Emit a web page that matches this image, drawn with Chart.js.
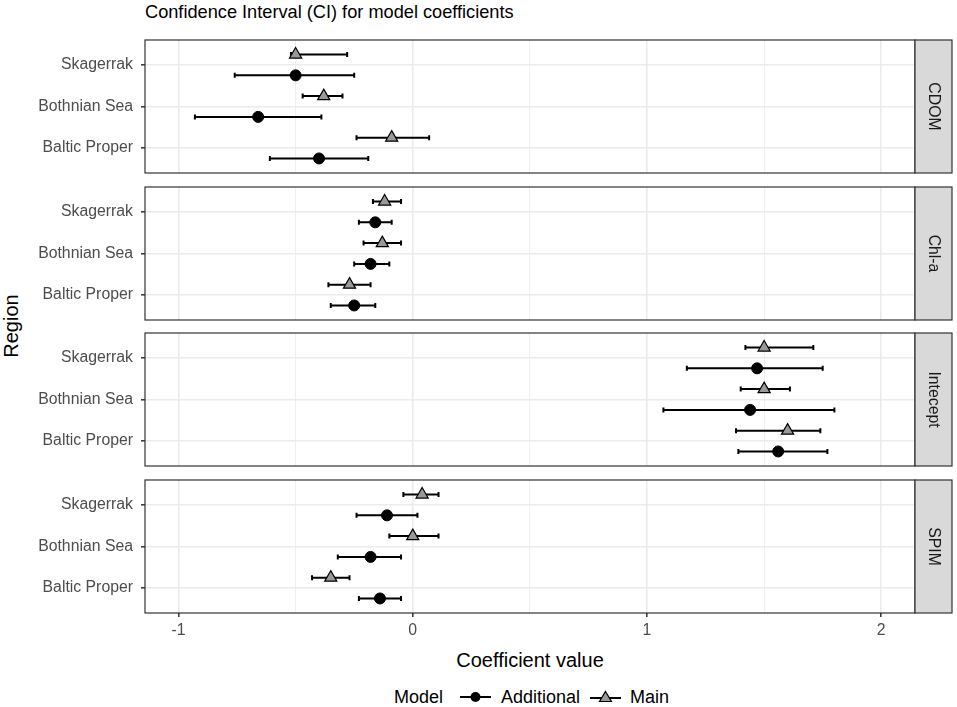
<!DOCTYPE html>
<html>
<head>
<meta charset="utf-8">
<script src="https://cdn.jsdelivr.net/npm/chart.js@4.4.1/dist/chart.umd.min.js"></script>
<style>
  body { margin: 0; background: #fff; font-family: "Liberation Sans", Arial, sans-serif; }
  #wrap { position: relative; width: 957px; height: 707px; overflow: hidden; }
  .panel { position: absolute; left: 0; width: 957px; }
  #title { position: absolute; left: 145px; top: 3px; font-size: 18.2px; line-height: 1; color: #000; white-space: nowrap; }
  #xtitle { position: absolute; left: 145px; width: 770px; top: 650px; font-size: 20px; line-height: 1; text-align: center; color: #000; }
  #ytitle { position: absolute; left: 11px; top: 326px; font-size: 20px; line-height: 1; color: #000;
            transform: translate(-50%, -50%) rotate(-90deg); white-space: nowrap; }
  #legend { position: absolute; left: 394px; top: 688px; font-size: 18px; line-height: 1; color: #000;
            display: flex; align-items: center; white-space: nowrap; }
  #legend svg { display: block; }
</style>
</head>
<body>
<div id="wrap">
  <div id="title">Confidence Interval (CI) for model coefficients</div>
  <div id="ytitle">Region</div>
  <div id="xtitle">Coefficient value</div>
  <div id="legend">
    <span>Model</span>
    <svg width="31" height="14" style="margin-left:17px"><line x1="0" y1="7" x2="31" y2="7" stroke="#000" stroke-width="2"/><circle cx="15.5" cy="7" r="5" fill="#000"/></svg>
    <span style="margin-left:10px">Additional</span>
    <svg width="31" height="14" style="margin-left:10px"><line x1="0" y1="8" x2="31" y2="8" stroke="#000" stroke-width="2"/><polygon points="15.5,1.5 21.5,11.5 9.5,11.5" fill="#999999" stroke="#000" stroke-width="1.2"/></svg>
    <span style="margin-left:9px">Main</span>
  </div>
</div>
<script>
// categories and facets
const regions = ['Skagerrak', 'Bothnian Sea', 'Baltic Proper'];
const facets = ['CDOM', 'Chl-a', 'Intecept', 'SPIM'];
const xTicks = [-1, 0, 1, 2];
const xGrid = [-1, -0.5, 0, 0.5, 1, 1.5, 2];

// one row per facet, one value per region (Skagerrak, Bothnian Sea, Baltic Proper)
const mainEst = [[-0.50, -0.38, -0.09], [-0.12, -0.13, -0.27], [1.50, 1.50, 1.60], [0.04, 0.00, -0.35]];
const mainLo  = [[-0.52, -0.47, -0.24], [-0.17, -0.21, -0.36], [1.42, 1.40, 1.38], [-0.04, -0.10, -0.43]];
const mainHi  = [[-0.28, -0.30, 0.07], [-0.05, -0.05, -0.18], [1.71, 1.61, 1.74], [0.11, 0.11, -0.27]];
const addEst  = [[-0.50, -0.66, -0.40], [-0.16, -0.18, -0.25], [1.47, 1.44, 1.56], [-0.11, -0.18, -0.14]];
const addLo   = [[-0.76, -0.93, -0.61], [-0.23, -0.25, -0.35], [1.17, 1.07, 1.39], [-0.24, -0.32, -0.23]];
const addHi   = [[-0.25, -0.39, -0.19], [-0.09, -0.10, -0.16], [1.75, 1.80, 1.77], [0.02, -0.05, -0.05]];

Chart.defaults.font.family = '"Liberation Sans", Arial, sans-serif';

const panelTops = [40, 187, 333, 480];
const panelH = 133;
const pad = 2;
const stripW = 37;

// horizontal error bars under the points
const errorBars = {
  id: 'errorBars',
  beforeDatasetsDraw(chart) {
    const ctx = chart.ctx, xs = chart.scales.x, ys = chart.scales.y;
    ctx.save();
    ctx.strokeStyle = '#000';
    ctx.lineWidth = 2;
    chart.data.datasets.forEach(ds => {
      ds.data.forEach(d => {
        const y = ys.getPixelForValue(d.y);
        const x0 = xs.getPixelForValue(d.lo), x1 = xs.getPixelForValue(d.hi);
        ctx.beginPath();
        ctx.moveTo(x0, y); ctx.lineTo(x1, y);
        ctx.moveTo(x0, y - 2.5); ctx.lineTo(x0, y + 2.5);
        ctx.moveTo(x1, y - 2.5); ctx.lineTo(x1, y + 2.5);
        ctx.stroke();
      });
    });
    ctx.restore();
  }
};

// panel border and facet strip on the right
const panelFrame = {
  id: 'panelFrame',
  afterDraw(chart, args, opts) {
    const ctx = chart.ctx, a = chart.chartArea;
    ctx.save();
    ctx.strokeStyle = '#333333';
    ctx.lineWidth = 1.2;
    ctx.strokeRect(a.left, a.top, a.right - a.left, a.bottom - a.top);
    ctx.fillStyle = '#D9D9D9';
    ctx.fillRect(a.right, a.top, stripW, a.bottom - a.top);
    ctx.strokeRect(a.right, a.top, stripW, a.bottom - a.top);
    ctx.fillStyle = '#1A1A1A';
    ctx.font = '15.8px "Liberation Sans", Arial, sans-serif';
    ctx.textAlign = 'center';
    ctx.textBaseline = 'middle';
    ctx.translate(a.right + stripW / 2, (a.top + a.bottom) / 2);
    ctx.rotate(Math.PI / 2);
    ctx.fillText(opts.label, 0, 0);
    ctx.restore();
  }
};

const wrap = document.getElementById('wrap');

facets.forEach((facet, p) => {
  const last = p === facets.length - 1;
  const div = document.createElement('div');
  div.className = 'panel';
  const h = last ? 707 - (panelTops[p] - pad) : panelH + 2 * pad;
  div.style.top = (panelTops[p] - pad) + 'px';
  div.style.height = h + 'px';
  const canvas = document.createElement('canvas');
  canvas.width = 957;
  canvas.height = h;
  div.appendChild(canvas);
  wrap.appendChild(div);

  const addData = regions.map((r, i) => ({ x: addEst[p][i], y: i + 1 + 0.25, lo: addLo[p][i], hi: addHi[p][i] }));
  const mainData = regions.map((r, i) => ({ x: mainEst[p][i], y: i + 1 - 0.25, lo: mainLo[p][i], hi: mainHi[p][i] }));

  new Chart(canvas, {
    type: 'scatter',
    data: {
      datasets: [
        {
          label: 'Additional',
          data: addData,
          pointStyle: 'circle',
          pointRadius: 5.5,
          backgroundColor: '#000',
          borderColor: '#000',
          borderWidth: 1
        },
        {
          label: 'Main',
          data: mainData,
          pointStyle: 'triangle',
          pointRadius: 7,
          backgroundColor: '#999999',
          borderColor: '#000',
          borderWidth: 1.2
        }
      ]
    },
    options: {
      responsive: false,
      animation: false,
      events: [],
      layout: {
        autoPadding: false,
        padding: { left: 0, right: 957 - 915, top: pad, bottom: last ? h - pad - panelH - 30 : pad }
      },
      plugins: {
        legend: { display: false },
        tooltip: { enabled: false },
        panelFrame: { label: facet }
      },
      scales: {
        x: {
          type: 'linear',
          min: -1.143,
          max: 2.144,
          afterBuildTicks: scale => { scale.ticks = xGrid.map(v => ({ value: v })); },
          afterFit: scale => {
            scale.height = last ? 30 : 0;
            scale.paddingLeft = 0;
            scale.paddingRight = 0;
          },
          border: { display: false },
          grid: {
            color: '#EBEBEB',
            lineWidth: c => (xTicks.includes(c.tick.value) ? 1.6 : 0.8),
            drawTicks: last,
            tickLength: 4,
            tickWidth: 1.5,
            tickColor: c => (xTicks.includes(c.tick.value) ? '#333333' : 'rgba(0,0,0,0)')
          },
          ticks: {
            display: last,
            padding: 4,
            color: '#4D4D4D',
            font: { size: 15.8 },
            maxRotation: 0,
            autoSkip: false,
            callback: v => (xTicks.includes(v) ? String(v) : '')
          }
        },
        y: {
          type: 'linear',
          min: 0.4,
          max: 3.6,
          reverse: true,
          afterBuildTicks: scale => { scale.ticks = regions.map((r, i) => ({ value: i + 1 })); },
          afterFit: scale => {
            scale.width = 145;
            scale.paddingTop = 0;
            scale.paddingBottom = 0;
          },
          border: { display: false },
          grid: {
            color: '#EBEBEB',
            lineWidth: 1.6,
            tickLength: 4,
            tickWidth: 1.5,
            tickColor: '#333333'
          },
          ticks: {
            padding: 8,
            color: '#4D4D4D',
            font: { size: 15.8 },
            autoSkip: false,
            callback: v => regions[v - 1]
          }
        }
      }
    },
    plugins: [errorBars, panelFrame]
  });
});
</script>
</body>
</html>
